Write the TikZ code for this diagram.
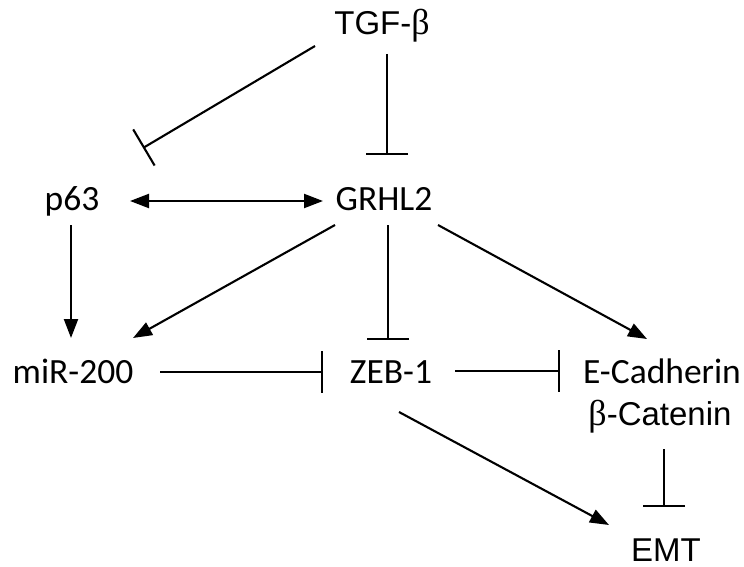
\documentclass[tikz,border=0pt]{standalone}
\usepackage{fontspec}
\setmainfont{Carlito}
\newfontfamily\arialf{Liberation Sans}
\newfontfamily\serff{Liberation Serif}
\usetikzlibrary{arrows.meta}
\begin{document}
\begin{tikzpicture}[x=1pt,y=-1pt,
  lbl/.style={inner sep=0pt, anchor=base, font=\fontsize{35.5}{40}\selectfont},
  albl/.style={inner sep=0pt, anchor=base, font=\arialf\fontsize{33}{38}\selectfont},
  act/.style={line width=2.1pt, -{Triangle[length=19pt,width=14pt]}},
  dact/.style={line width=2.1pt, {Triangle[length=19pt,width=14pt]}-{Triangle[length=19pt,width=14pt]}},
  inh/.style={line width=2.1pt, -{Bar[width=42pt]}},
]
\useasboundingbox (0,0) rectangle (744,567);
\fill[white] (0,0) rectangle (744,567);

% nodes
\node[albl] (tgf) at (382,35) {TGF-{\serff\fontsize{36}{40}\selectfont β}};
\node[lbl] (grhl) at (384,210) {GRHL2};
\node[lbl] (p63) at (72,210) {p63};
\node[lbl] (mir) at (73,383) {miR-200};
\node[lbl] (zeb) at (391,383) {ZEB-1};
\node[lbl] (ecad) at (662,383) {E-Cadherin};
\node[albl] (bcat) at (660,425) {{\serff\fontsize{36}{40}\selectfont β}-Catenin};
\node[albl] (emt) at (666,561) {EMT};

% connector end points
\coordinate (tgf-l) at (315,46);
\coordinate (p63-tr) at (143,148);
\coordinate (tgf-b) at (387,54);
\coordinate (grhl-t) at (387,155);
\coordinate (p63-r) at (130,201);
\coordinate (grhl-l) at (323,201);
\coordinate (p63-b) at (71,225);
\coordinate (mir-t) at (71,338);
\coordinate (grhl-bl) at (335,225);
\coordinate (mir-tr) at (133,338);
\coordinate (grhl-b) at (388,225);
\coordinate (zeb-t) at (388,340);
\coordinate (grhl-br) at (438,225);
\coordinate (ecad-tl) at (647,339);
\coordinate (mir-r) at (160,372);
\coordinate (zeb-l) at (323,372);
\coordinate (zeb-r) at (455,371);
\coordinate (ecad-l) at (560,371);
\coordinate (zeb-br) at (399,412);
\coordinate (emt-tl) at (609,525);
\coordinate (bcat-b) at (664,449);
\coordinate (emt-t) at (664,507);

% connectors
\draw[inh] (tgf-l) -- (p63-tr);
\draw[inh] (tgf-b) -- (grhl-t);
\draw[dact] (p63-r) -- (grhl-l);
\draw[act] (p63-b) -- (mir-t);
\draw[act] (grhl-bl) -- (mir-tr);
\draw[inh] (grhl-b) -- (zeb-t);
\draw[act] (grhl-br) -- (ecad-tl);
\draw[inh] (mir-r) -- (zeb-l);
\draw[inh] (zeb-r) -- (ecad-l);
\draw[act] (zeb-br) -- (emt-tl);
\draw[inh] (bcat-b) -- (emt-t);
\end{tikzpicture}
\end{document}
